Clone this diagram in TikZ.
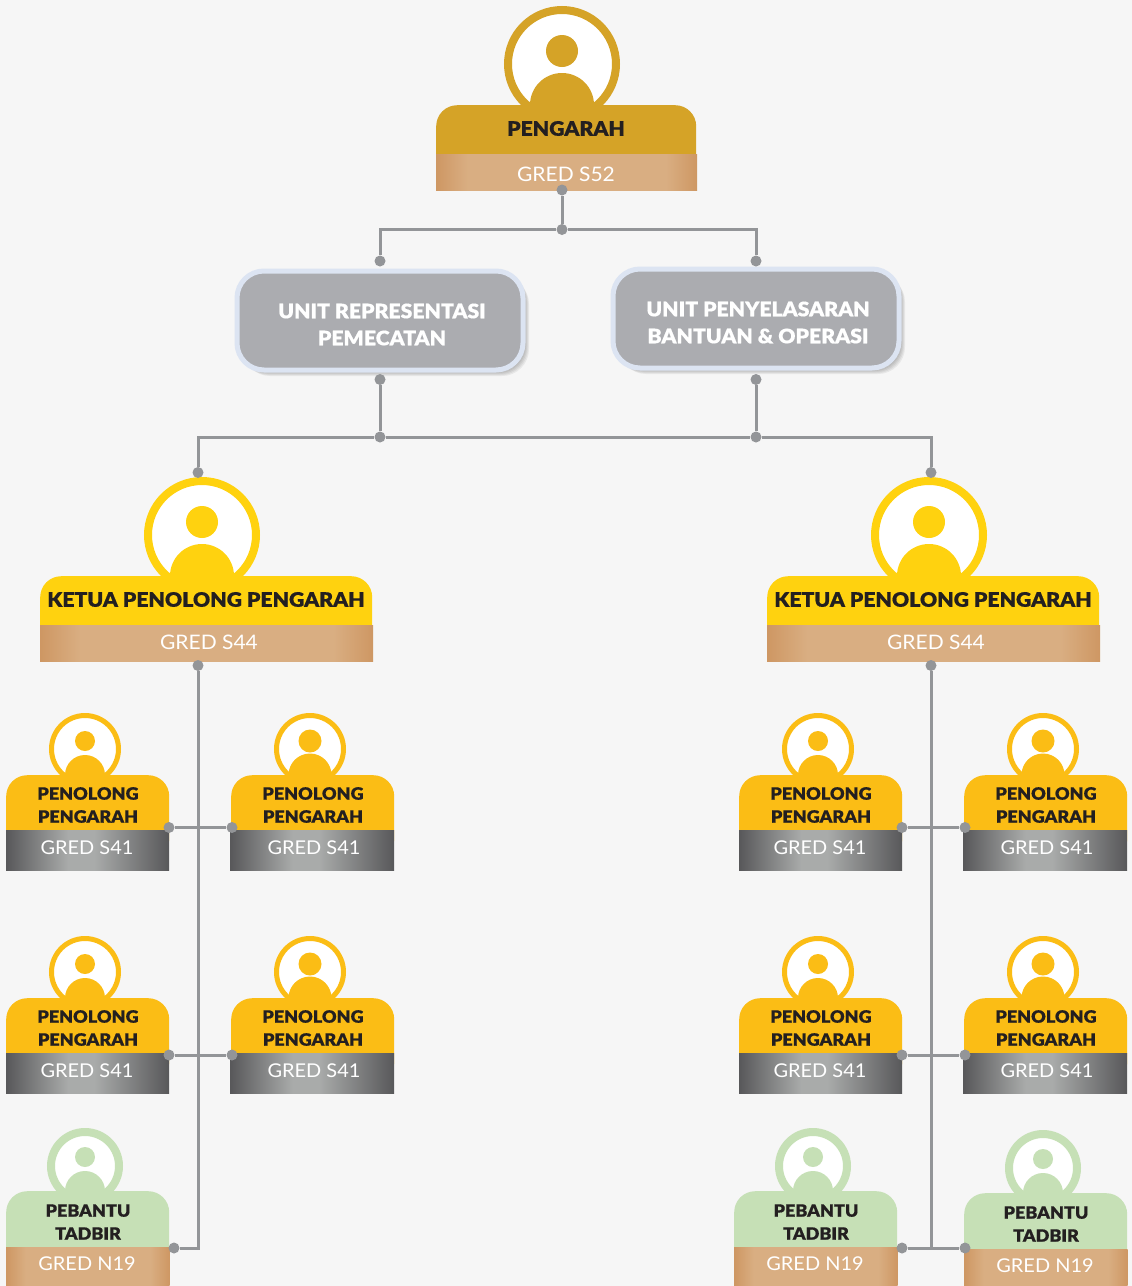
\documentclass[tikz,border=0pt]{standalone}
\usepackage{fontspec}
\usetikzlibrary{shadows}
\newfontfamily\headfont[FakeStretch=1.06,FakeBold=0.6]{Lato Black}
\newfontfamily\gredfont[FakeStretch=1.05]{Lato}
\definecolor{pagegray}{HTML}{F6F6F6}
\definecolor{linkgray}{HTML}{939598}
\definecolor{unitgray}{HTML}{ABACB0}
\definecolor{unitedge}{HTML}{DCE4F2}
\definecolor{goldhead}{HTML}{D5A327}
\definecolor{ketuahead}{HTML}{FFD20F}
\definecolor{penolonghead}{HTML}{FBBD15}
\definecolor{pebantuhead}{HTML}{C6E0B6}
\definecolor{headink}{HTML}{231F20}
\definecolor{copper1}{HTML}{CE9763}
\definecolor{copper2}{HTML}{D9AE82}
\definecolor{steel1}{HTML}{58585A}
\definecolor{steel2}{HTML}{A9ABAA}
\pgfdeclarehorizontalshading{copperband}{100bp}{color(0bp)=(copper1); color(25bp)=(copper1); color(31bp)=(copper2); color(69bp)=(copper2); color(75bp)=(copper1); color(100bp)=(copper1)}
\pgfdeclarehorizontalshading{steelband}{100bp}{color(0bp)=(steel1); color(25bp)=(steel1); color(44bp)=(steel2); color(52bp)=(steel2); color(75bp)=(steel1); color(100bp)=(steel1)}
\tikzset{
	dot/.style={circle,fill=linkgray,inner sep=0pt,minimum size=11pt},
	link/.style={draw=linkgray,line width=3pt},
	headbox/.style={rectangle,rounded corners=21pt,inner sep=0pt,anchor=north west},
	bandbox/.style={rectangle,inner sep=0pt,anchor=north west},
	softlayer/.style={general shadow={shadow xshift=#1,shadow yshift=-#1,fill=black,opacity=.06}},
	unitbox/.style={rectangle,rounded corners=27pt,fill=unitgray,draw=unitedge,line width=5pt,
		minimum width=286pt,minimum height=99pt,inner sep=0pt,
		softlayer=6pt,softlayer=5pt,softlayer=4pt,softlayer=3pt,softlayer=2pt,softlayer=1pt},
	unittext/.style={text=white,align=center,font=\headfont\fontsize{20}{27}\selectfont},
	bigtext/.style={text=headink,font=\headfont\fontsize{20}{24}\selectfont},
	smalltext/.style={text=headink,align=center,font=\headfont\fontsize{17}{23}\selectfont},
	gredtext/.style={text=white,font=\gredfont\fontsize{20}{24}\selectfont},
	smallgred/.style={text=white,font=\gredfont\fontsize{19}{24}\selectfont},
}
\begin{document}
\begin{tikzpicture}[x=1pt,y=-1pt]
	\useasboundingbox (0,0) rectangle (1132,1286);
	\fill[pagegray] (0,0) rectangle (1132,1286);

	% cargos grandes
	\foreach \nm/\lx/\ty/\bw/\cx/\col/\tx/\txt/\gx/\gy/\grd in {%
		pengarah/436/105/260/562/goldhead/566/PENGARAH/566/174/S52,%
		ketual/40/576/332/202/ketuahead/206/KETUA PENOLONG PENGARAH/209/642/S44,%
		ketuar/767/576/332/929/ketuahead/933/KETUA PENOLONG PENGARAH/936/642/S44}{
		\draw[\col,fill=white,line width=8pt] (\cx,\ty-41) circle (54pt);
		\fill[\col] (\cx,\ty-54) circle (16pt);
		\fill[\col] (\cx,\ty) circle (32pt);
		\node[headbox,fill=\col,minimum width=\bw pt,minimum height=78pt] (\nm-head) at (\lx,\ty) {};
		\node[bandbox,shading=copperband,minimum width=\bw pt+1pt,minimum height=35.5pt] (\nm-band) at (\lx,\ty+49.5) {};
		\node[bigtext] (\nm-text) at (\tx,\ty+23.5) {\txt};
		\node[gredtext] (\nm-gred) at (\gx,\gy) {GRED \grd};
	}

	% penolong pengarah
	\foreach \nm/\lx/\ty/\cx/\hr/\gx/\bl/\bw in {%
		pa/6/775/85/10/87/6/163,pb/231/775/310/11.5/314/230/164,pc/739/775/818/10/820/739/163,pd/964/775/1043/11.5/1047/963/164,%
		pe/6/998/85/10/87/6/163,pf/231/998/310/11.5/314/230/164,pg/739/998/818/10/820/739/163,ph/964/998/1043/11.5/1047/963/164}{
		\draw[penolonghead,fill=white,line width=5pt] (\cx,\ty-26) circle (33.5pt);
		\fill[penolonghead] (\cx,\ty-34) circle (\hr pt);
		\fill[penolonghead] (\cx,\ty) circle (\hr pt+10pt);
		\node[headbox,fill=penolonghead,minimum width=163pt,minimum height=85pt] (\nm-head) at (\lx,\ty) {};
		\node[bandbox,shading=steelband,minimum width=\bw pt,minimum height=40pt] (\nm-band) at (\bl,\ty+55) {};
		\node[smalltext] (\nm-text) at (\lx+82,\ty+30) {PENOLONG\\PENGARAH};
		\node[smallgred] (\nm-gred) at (\gx,\ty+72.5) {GRED S41};
	}

	% pebantu tadbir
	\foreach \nm/\lx/\ty/\cx/\tx/\gx in {%
		qa/6/1191/85/88/87,qb/734/1191/813/816/815,qc/964/1193/1043/1046/1045}{
		\draw[pebantuhead,fill=white,line width=8pt] (\cx,\ty-25) circle (34pt);
		\fill[pebantuhead] (\cx,\ty-34) circle (10pt);
		\fill[pebantuhead] (\cx,\ty) circle (20pt);
		\node[headbox,fill=pebantuhead,minimum width=163pt,minimum height=85pt] (\nm-head) at (\lx,\ty) {};
		\node[bandbox,shading=copperband,minimum width=163.5pt,minimum height=45pt] (\nm-band) at (\lx,\ty+56) {};
		\node[smalltext] (\nm-text) at (\tx,\ty+31) {PEBANTU\\TADBIR};
		\node[smallgred] (\nm-gred) at (\gx,\ty+73) {GRED N19};
	}

	% unidades
	\node[unitbox] (unitrep) at (380,320.5) {};
	\node[unittext] (unitrep-text) at (382,324.5) {UNIT REPRESENTASI\\PEMECATAN};
	\node[unitbox] (unitpen) at (756,318.5) {};
	\node[unittext] (unitpen-text) at (758,322.5) {UNIT PENYELASARAN\\BANTUAN \& OPERASI};

	% puntos de union
	\node[dot] (topout) at (562,190) {};
	\node[dot] (topjoin) at (562,229.5) {};
	\node[dot] (repin) at (380,261) {};
	\node[dot] (penin) at (756,261) {};
	\node[dot] (repout) at (380,379.5) {};
	\node[dot] (penout) at (756,379.5) {};
	\node[dot] (repjoin) at (380,437) {};
	\node[dot] (penjoin) at (756,437) {};
	\node[dot] (ketualin) at (198,472.5) {};
	\node[dot] (ketuarin) at (931,472.5) {};
	\node[dot] (ketualout) at (198,665.5) {};
	\node[dot] (ketuarout) at (931,665.5) {};
	\node[dot] (paout) at (169,827.5) {};
	\node[dot] (pbout) at (232,827.5) {};
	\node[dot] (pcout) at (902,827.5) {};
	\node[dot] (pdout) at (965,827.5) {};
	\node[dot] (peout) at (169,1055) {};
	\node[dot] (pfout) at (232,1055) {};
	\node[dot] (pgout) at (902,1055) {};
	\node[dot] (phout) at (965,1055) {};
	\node[dot] (qaout) at (174,1248) {};
	\node[dot] (qbout) at (902,1248) {};
	\node[dot] (qcout) at (965,1248) {};
	\coordinate (trunkend) at (931,1248);

	% lineas
	\draw[link] (topout) -- (topjoin);
	\draw[link] (topjoin) -| (repin);
	\draw[link] (topjoin) -| (penin);
	\draw[link] (repout) -- (repjoin);
	\draw[link] (penout) -- (penjoin);
	\draw[link] (repjoin) -- (penjoin);
	\draw[link] (repjoin) -| (ketualin);
	\draw[link] (penjoin) -| (ketuarin);
	\draw[link] (ketualout) |- (qaout);
	\draw[link] (ketuarout) -- (trunkend);
	\draw[link] (paout) -- (pbout);
	\draw[link] (pcout) -- (pdout);
	\draw[link] (peout) -- (pfout);
	\draw[link] (pgout) -- (phout);
	\draw[link] (qbout) -- (qcout);
\end{tikzpicture}
\end{document}
